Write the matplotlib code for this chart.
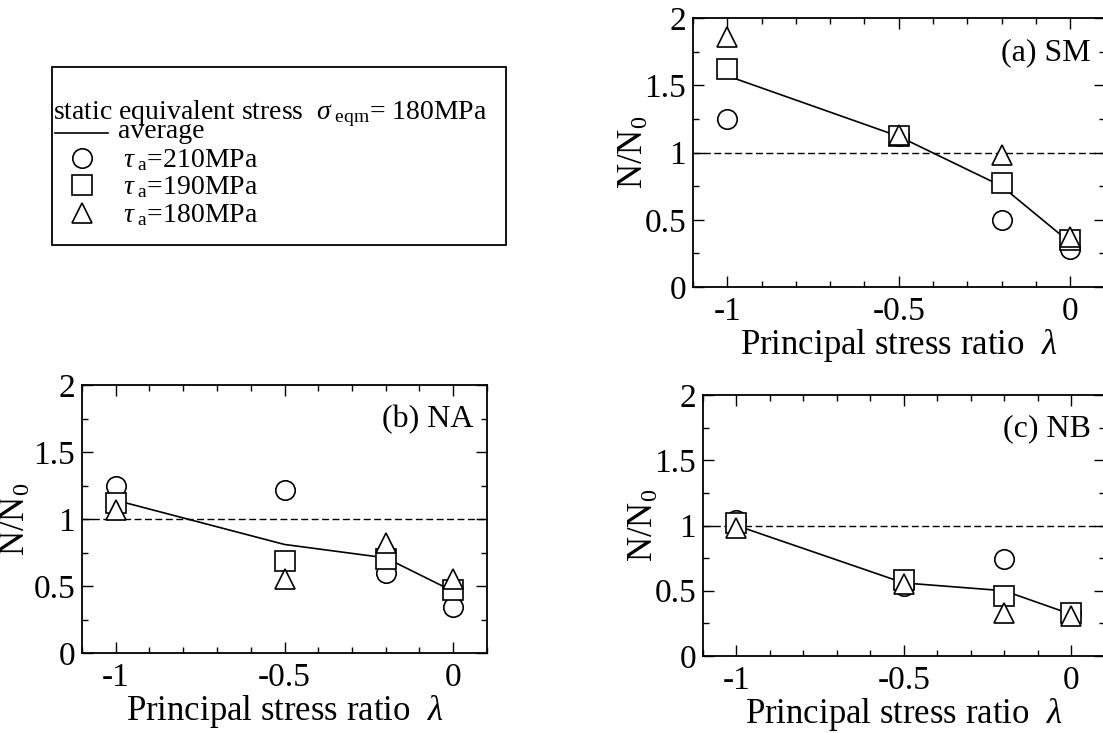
import matplotlib
matplotlib.use("Agg")
import matplotlib.pyplot as plt
from matplotlib.ticker import MultipleLocator, FuncFormatter

plt.rcParams['font.family'] = ['Liberation Serif', 'DejaVu Serif']
plt.rcParams['mathtext.fontset'] = 'custom'
plt.rcParams['mathtext.rm'] = 'Liberation Serif'
plt.rcParams['mathtext.it'] = 'Liberation Serif:italic'
plt.rcParams['axes.unicode_minus'] = False

# ---- data ----
lam = [-1.0, -0.5, -0.2, 0.0]

sm_210 = [1.25, 1.12, 0.50, 0.28]
sm_190 = [1.62, 1.12, 0.77, 0.35]
sm_180 = [1.86, 1.13, 0.98, 0.37]
sm_avg = [1.57, 1.12, 0.75, 0.33]

na_210 = [1.25, 1.22, 0.60, 0.34]
na_190 = [1.12, 0.69, 0.70, 0.47]
na_180 = [1.07, 0.55, 0.82, 0.55]
na_avg = [1.14, 0.81, 0.71, 0.46]

nb_210 = [1.04, 0.54, 0.74, 0.33]
nb_190 = [1.02, 0.58, 0.46, 0.33]
nb_180 = [0.98, 0.55, 0.33, 0.31]
nb_avg = [1.00, 0.56, 0.50, 0.32]

panel_labels = ['(a) SM', '(b) NA', '(c) NB']
legend_title = r'static equivalent stress  $\sigma_{\rm\ eqm}$= 180MPa'
legend_labels = [r'$\tau_{\rm\ a}$=210MPa', r'$\tau_{\rm\ a}$=190MPa', r'$\tau_{\rm\ a}$=180MPa']

W, H = 1103, 733
fig = plt.figure(figsize=(W / 100, H / 100), dpi=100)


def px_axes(left, right, top, bottom):
    return fig.add_axes([left / W, (H - bottom) / H, (right - left) / W, (bottom - top) / H])


TFS = 24   # tick labels
LFS = 25   # axis labels
PFS = 23   # panel labels
MS = 14


def draw_panel(ax, c, s, t, avg, label, width_px, ylab_off):
    ax.axhline(1.0, color='black', lw=1.0, ls=(0, (5, 2.5)), zorder=1)
    ax.plot(lam, avg, color='black', lw=1.2, zorder=2)
    ax.plot(lam, c, ls='none', marker='o', ms=MS, mfc='white', mec='black', mew=1.2, zorder=3)
    ax.plot(lam, s, ls='none', marker='s', ms=MS, mfc='white', mec='black', mew=1.2, zorder=4)
    ax.plot(lam, t, ls='none', marker='^', ms=MS, mfc='white', mec='black', mew=1.2, zorder=5)
    ax.set_xlim(-1.1, 0.1)
    ax.set_ylim(0, 2)
    ax.xaxis.set_major_locator(MultipleLocator(0.5))
    ax.xaxis.set_minor_locator(MultipleLocator(0.1))
    ax.yaxis.set_major_locator(MultipleLocator(0.5))
    ax.yaxis.set_minor_locator(MultipleLocator(0.25))
    ax.xaxis.set_major_formatter(FuncFormatter(lambda v, p: '%g' % v))
    ax.yaxis.set_major_formatter(FuncFormatter(lambda v, p: '%g' % v))
    ax.tick_params(which='both', direction='in', top=True, right=True, width=1.0)
    ax.tick_params(which='major', length=8, labelsize=TFS)
    ax.tick_params(which='minor', length=4.5)
    ax.tick_params(axis='y', which='major', pad=5)
    ax.tick_params(axis='x', which='major', pad=7)
    for sp in ax.spines.values():
        sp.set_linewidth(1.3)
    ax.set_xlabel(r'Principal stress ratio  $\lambda$', fontsize=LFS, labelpad=0)
    ax.set_ylabel(r'N/N$_0$', fontsize=LFS)
    ax.yaxis.set_label_coords(ylab_off / width_px, 0.5)
    ax.text(0.06, 1.74, label, fontsize=PFS, ha='right', va='center')


ax_a = px_axes(693, 1104.5, 18, 287)
draw_panel(ax_a, sm_210, sm_190, sm_180, sm_avg, panel_labels[0], 411.5, -42.0)

ax_b = px_axes(82, 487, 385, 653)
draw_panel(ax_b, na_210, na_190, na_180, na_avg, panel_labels[1], 405, -49.0)

ax_c = px_axes(703, 1104.5, 395, 656)
draw_panel(ax_c, nb_210, nb_190, nb_180, nb_avg, panel_labels[2], 401.5, -42.0)

# ---- legend box (pixel coordinates) ----
leg = fig.add_axes([0, 0, 1, 1], facecolor='none')
leg.set_xlim(0, W)
leg.set_ylim(H, 0)
leg.axis('off')
leg.add_patch(plt.Rectangle((52, 67), 454, 178, fill=False, lw=1.3, ec='black'))
GFS = 20
leg.text(53, 119.5, legend_title, fontsize=GFS, va='baseline', ha='left')
leg.plot([55, 108], [133, 133], color='black', lw=1.2)
leg.text(118, 137.5, 'average', fontsize=GFS, va='baseline', ha='left')
markers = ['o', 's', '^']
ys = [158, 185, 213]
baselines = [167, 194, 222]
for m, y, b, lab in zip(markers, ys, baselines, legend_labels):
    leg.plot([82], [y], marker=m, ms=MS, mfc='white', mec='black', mew=1.2, ls='none')
    leg.text(123, b, lab, fontsize=GFS, va='baseline', ha='left')

fig.savefig('out.png', dpi=100)
